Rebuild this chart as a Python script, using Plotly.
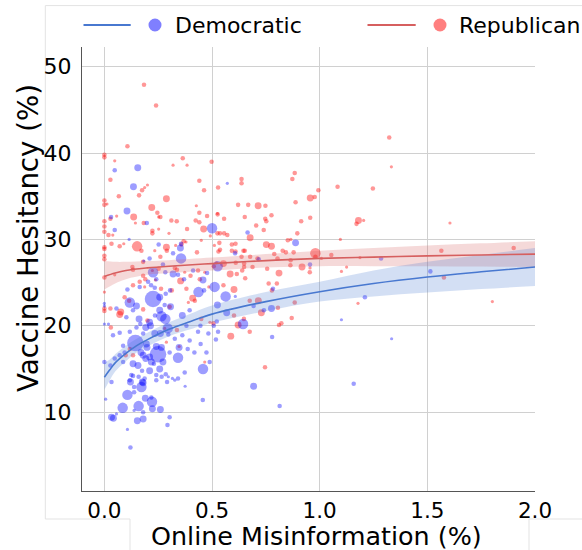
import numpy as np
import plotly.graph_objects as go

# ---------------- data ----------------
red_x = [0.184, 0.24, 0.107,
         0.0, 0.0, 0.048, 0.364, 0.384, 0.319, 0.028, 0.441, 0.2, 0.187, 0.175, 0.463, 0.161, 0.067, 0.288, 0.0, 0.012,
         0.0, 0.22, 0.427, 0.441, 0.246, 0.26, 0.252, 0.136, 0.057, 0.028, 0.477, 0.526, 0.0, 0.0, 0.0, 0.144, 0.183,
         0.311, 0.336, 0.424, 0.441, 0.223, 0.223, 0.252, 0.384, 0.461, 0.3, 0.019, 0.039, 0.368, 0.379, 0.45, 0.492,
         0.09, 0.071, 0.033, 0.152, 0.0, 0.0, 0.172, 0.234, 0.288, 0.29, 0.331, 0.358, 0.43, 0.511, 0.53,
         0.0, 0.0, 0.18, 0.26, 0.13, 0.133, 0.223, 0.252, 0.327, 0.337, 0.373, 0.435, 0.466, 0.508, 0.52, 0.0, 0.048,
         0.18, 0.19, 0.237, 0.354, 0.4, 0.443, 0.164, 0.133, 0.187, 0.263, 0.381, 0.485, 0.0, 0.094, 0.115, 0.41, 0.42,
         0.39, 0.303, 0.313, 0.18, 0.028, 0.076, 0.071, 0.0, 0.0, 0.2, 0.03, 0.28, 0.337, 0.49, 0.45, 0.118, 0.133,
         0.099, 0.347, 0.288, 0.466,
         0.637, 0.637, 0.873, 0.884, 0.621, 0.668, 0.714, 0.748, 0.652, 0.747, 0.752, 0.776, 0.705, 0.677, 0.74, 0.888,
         0.914, 0.956, 0.977, 0.994, 0.956, 0.896, 0.866, 0.852, 0.752, 0.776, 0.828, 0.843, 0.789, 0.879, 0.98, 0.98,
         0.637, 0.652, 0.609, 0.592, 0.571, 0.556, 0.537, 0.525, 0.534, 0.556, 0.525, 0.528, 0.498, 0.677,
         1.323, 1.333, 1.083, 1.247, 1.18, 1.171, 1.204, 1.605, 1.096, 1.054, 1.008, 1.187, 1.565, 1.901,
         0.609, 0.537, 0.592, 0.646, 0.553, 0.61, 0.649, 0.649, 0.64, 0.584, 0.615, 0.688, 0.711, 0.756, 0.654, 0.763,
         0.801, 0.602, 0.553, 0.778, 0.506,
         0.675, 0.715, 0.806, 0.884, 0.729, 0.602, 0.648, 0.87, 0.822, 0.811, 0.621, 0.675, 0.587, 0.746, 1.178,
         1.577, 1.802,
         0.804, 0.865, 0.864, 0.918, 0.811, 0.955, 0.954, 1.101, 1.125]
red_y = [47.9, 45.5, 40.8,
         39.8, 39.5, 39.1, 39.4, 38.6, 38.6, 36.9, 36.8, 36.3, 36.0, 35.7, 35.7, 35.1, 35.0, 34.7, 34.5, 34.1,
         34.0, 33.7, 33.9, 33.1, 33.1, 32.6, 32.6, 32.6, 32.7, 32.4, 32.7, 32.9, 32.1, 31.5, 30.9, 31.9, 31.9,
         32.2, 32.1, 32.2, 32.0, 31.0, 30.7, 31.2, 31.2, 31.2, 30.7, 30.5, 30.5, 29.8, 29.7, 29.9, 30.4,
         29.5, 29.2, 29.5, 29.2, 29.1, 28.9, 28.7, 28.7, 29.1, 28.7, 29.3, 29.4, 28.5, 29.3, 28.6,
         28.1, 27.7, 27.4, 28.0, 26.8, 26.5, 26.4, 26.6, 26.7, 26.5, 26.2, 26.4, 26.2, 26.9, 27.3, 25.6, 25.9,
         25.8, 25.4, 25.3, 25.2, 25.8, 25.4, 25.1, 24.7, 24.5, 24.3, 24.3, 24.5, 23.9, 23.3, 22.9, 23.2, 22.9,
         22.7, 22.2, 24.1, 21.9, 22.0, 21.6, 21.3, 22.0, 21.7, 20.6, 19.8, 19.7, 19.5, 20.4, 20.8, 17.3, 16.6,
         16.6, 17.6, 18.1, 15.8,
         37.0, 36.5, 37.0, 37.7, 34.0, 34.0, 33.9, 33.9, 32.6, 32.4, 32.1, 32.8, 31.6, 30.2, 31.1, 34.3,
         32.1, 34.8, 34.9, 35.7, 32.5, 30.7, 30.0, 29.9, 29.4, 29.2, 28.7, 28.5, 28.3, 28.5, 28.4, 28.0,
         28.0, 28.7, 28.6, 29.4, 30.5, 30.7, 30.7, 30.7, 29.6, 32.4, 33.0, 36.0, 39.0, 28.0,
         41.8, 38.4, 36.1, 35.9, 32.2, 31.8, 32.2, 31.9, 30.0, 28.2, 27.8, 27.9, 28.7, 29.0,
         29.5, 28.8, 28.7, 28.7, 27.2, 27.3, 27.2, 26.8, 26.4, 26.0, 26.0, 26.8, 27.8, 26.6, 25.5, 24.9,
         24.9, 24.2, 24.7, 24.1, 20.3,
         22.9, 22.9, 22.1, 22.7, 21.5, 21.2, 20.8, 20.9, 20.3, 20.1, 20.1, 19.3, 18.8, 15.2, 22.6,
         25.6, 22.8,
         27.8, 27.6, 27.0, 26.8, 26.1, 26.7, 26.2, 26.3, 26.8]
red_pop = [2, 2, 2,
           2, 2, 1, 2, 1, 1, 2, 2, 1, 1, 2, 2, 2, 2, 3, 2, 1,
           2, 3, 1, 2, 2, 2, 1, 3, 1, 2, 2, 2, 2, 2, 2, 1, 2,
           2, 2, 2, 2, 2, 2, 1, 2, 3, 1, 2, 1, 2, 1, 1, 1,
           1, 2, 2, 4, 2, 2, 2, 1, 3, 2, 1, 2, 2, 1, 2,
           2, 2, 2, 2, 2, 2, 1, 2, 2, 2, 1, 2, 1, 2, 1, 2, 1,
           2, 2, 1, 3, 2, 2, 2, 2, 1, 2, 2, 1, 1, 2, 2, 3, 2,
           1, 2, 2, 2, 2, 3, 3, 2, 2, 2, 2, 1, 2, 1, 2, 2, 2,
           2, 1, 1, 1,
           2, 2, 2, 2, 2, 2, 3, 2, 2, 2, 2, 2, 2, 3, 2, 2,
           2, 3, 2, 2, 2, 2, 1, 2, 3, 3, 2, 2, 2, 2, 4, 2,
           2, 2, 2, 2, 2, 2, 2, 2, 2, 2, 1, 2, 2, 2,
           2, 1, 2, 2, 3, 2, 1, 1, 1, 2, 1, 1, 2, 2,
           2, 2, 2, 2, 3, 2, 2, 2, 2, 3, 2, 2, 2, 2, 2, 2,
           2, 3, 2, 2, 2,
           2, 3, 2, 2, 3, 2, 2, 2, 2, 2, 3, 2, 3, 2, 1,
           2, 1,
           2, 2, 2, 3, 3, 1, 2, 1, 1]

blue_x = [0.155, 0.048, 0.135, 0.105, 0.031, 0.197, 0.048, 0.5, 0.115, 0.252, 0.356, 0.353, 0.319, 0.21, 0.356, 0.183,
          0.272, 0.226, 0.283, 0.319, 0.412, 0.477, 0.458, 0.342, 0.37, 0.241, 0.203, 0.217, 0.164, 0.107, 0.234, 0.285,
          0.305, 0.437, 0.512, 0.463, 0.226, 0.257, 0.118, 0.149, 0.28, 0.307, 0.257, 0.265, 0.283, 0.235, 0.362, 0.396,
          0.056, 0.133, 0.102, 0.161, 0.167, 0.21, 0.214, 0.192, 0.294, 0.26, 0.297, 0.18, 0.234, 0.149, 0.118, 0.071,
          0.04, 0.019, 0.0, 0.381, 0.446, 0.508, 0.435, 0.483, 0.528, 0.362, 0.327, 0.396, 0.447, 0.474, 0.144, 0.195,
          0.198, 0.087, 0.241, 0.265, 0.249, 0.347, 0.342, 0.303, 0.387, 0.418, 0.17, 0.18, 0.192, 0.21, 0.218, 0.094,
          0.071, 0.087, 0.048, 0.0, 0.028, 0.133, 0.156, 0.23, 0.272, 0.257, 0.21, 0.175, 0.125, 0.241, 0.285, 0.373,
          0.458, 0.489, 0.118, 0.133, 0.176, 0.033, 0.291, 0.342, 0.0, 0.0,
          0.121, 0.159, 0.187, 0.18, 0.172, 0.138, 0.241, 0.266, 0.297, 0.316, 0.327, 0.375, 0.006, 0.107, 0.138, 0.19,
          0.218, 0.221, 0.085, 0.159, 0.138, 0.223, 0.26, 0.18, 0.056, 0.033, 0.042, 0.153, 0.18, 0.303, 0.293, 0.107,
          0.121, 0.457,
          0.571, 0.665, 0.888, 0.717, 0.607, 0.526, 0.783,
          0.563, 0.608, 0.525, 0.693, 0.741, 0.776, 0.568, 0.522, 0.644, 0.518, 0.779, 0.693, 0.814, 1.101, 1.158, 1.21,
          0.955, 1.285, 1.514, 1.334]
blue_y = [38.3, 38.0, 36.1, 33.3, 32.6, 31.9, 31.1, 31.3, 30.0, 29.4, 29.5, 29.0, 28.4, 27.8, 27.8, 27.5,
          27.1, 26.2, 26.2, 26.0, 26.4, 26.1, 25.3, 25.9, 25.4, 25.4, 25.1, 24.7, 24.5, 24.2, 24.4, 23.7,
          24.1, 23.9, 24.5, 24.1, 23.1, 23.3, 22.7, 22.3, 22.4, 22.2, 21.8, 21.1, 20.8, 21.2, 21.2, 21.8,
          22.0, 21.8, 21.0, 20.8, 20.2, 20.4, 20.0, 19.8, 19.7, 19.1, 19.0, 19.1, 19.1, 19.8, 19.3, 19.2,
          18.9, 20.2, 20.2, 20.0, 20.0, 20.0, 19.3, 19.1, 19.3, 18.9, 18.5, 18.3, 17.9, 16.9, 18.0, 17.9,
          17.5, 17.7, 17.6, 17.5, 16.7, 17.5, 16.3, 16.9, 17.3, 16.9, 16.9, 16.6, 16.2, 16.4, 15.8, 16.9,
          16.6, 15.8, 16.2, 15.8, 15.4, 15.6, 15.4, 15.6, 15.8, 15.0, 14.8, 14.8, 14.3, 14.3, 14.4, 14.6,
          15.0, 15.8, 13.7, 14.2, 13.5, 13.5, 13.5, 13.9, 22.6, 22.3,
          13.5, 14.1, 13.9, 13.4, 12.9, 12.9, 13.7, 14.1, 14.1, 13.9, 13.7, 13.0, 11.5, 12.0, 12.3, 11.6,
          11.7, 11.2, 10.5, 10.7, 10.2, 10.4, 10.3, 10.0, 9.8, 9.4, 9.3, 9.0, 9.2, 9.4, 8.5, 8.0,
          5.9, 11.4,
          36.5, 30.8, 29.6, 27.7, 28.4, 26.9, 24.3,
          23.4, 23.4, 22.4, 22.3, 21.8, 22.0, 21.5, 20.5, 20.2, 18.4, 18.7, 13.0, 10.7, 20.7, 13.3, 23.3,
          27.1, 27.8, 26.3, 18.5]
blue_pop = [3, 2, 3, 3, 2, 2, 2, 4, 1, 2, 2, 3, 2, 2, 4, 1,
            2, 4, 2, 3, 2, 2, 3, 2, 2, 2, 2, 2, 2, 2, 2, 2,
            2, 4, 4, 2, 5, 3, 4, 3, 2, 3, 3, 4, 4, 2, 3, 2,
            2, 2, 2, 3, 2, 3, 3, 3, 4, 3, 2, 2, 3, 2, 2, 2,
            2, 1, 1, 2, 2, 2, 2, 2, 2, 2, 2, 2, 2, 2, 5, 3,
            3, 2, 3, 3, 5, 3, 4, 2, 2, 2, 3, 3, 3, 3, 3, 2,
            2, 2, 2, 2, 2, 3, 3, 2, 3, 3, 3, 2, 2, 2, 2, 2,
            4, 2, 2, 2, 3, 2, 2, 2, 1, 1,
            3, 2, 2, 3, 4, 2, 2, 2, 1, 1, 1, 1, 1, 4, 2, 3,
            2, 4, 4, 4, 1, 3, 3, 2, 1, 3, 3, 3, 3, 2, 2, 1,
            2, 2,
            1, 2, 3, 2, 2, 4, 2,
            4, 1, 3, 2, 2, 3, 3, 2, 4, 2, 2, 3, 2, 1, 2, 2,
            2, 2, 2, 1]

# fitted curves and confidence bands
blue_fit_x = [0.0, 0.025, 0.05, 0.1, 0.15, 0.2, 0.3, 0.4, 0.5, 0.75, 1.0, 1.25, 1.5, 1.75, 2.0]
blue_fit_y = [14.05, 14.9, 15.7, 16.8, 17.7, 18.4, 19.6, 20.5, 21.35, 22.8, 23.95, 24.9, 25.65, 26.25, 26.8]
blue_lo = [12.6, 13.7, 14.7, 15.9, 16.9, 17.6, 18.8, 19.6, 20.35, 21.7, 22.8, 23.4, 23.85, 24.25, 24.6]
blue_hi = [15.7, 16.1, 16.7, 17.7, 18.5, 19.2, 20.4, 21.4, 22.35, 23.9, 25.1, 26.4, 27.4, 28.2, 29.0]

red_fit_x = [0.0, 0.05, 0.1, 0.2, 0.3, 0.5, 0.75, 1.0, 1.25, 1.5, 1.75, 2.0]
red_fit_y = [25.7, 26.1, 26.4, 26.7, 26.9, 27.2, 27.55, 27.8, 27.95, 28.1, 28.2, 28.3]
red_lo = [24.2, 24.9, 25.4, 25.9, 26.1, 26.4, 26.75, 26.9, 26.9, 26.9, 26.85, 26.8]
red_hi = [27.5, 27.4, 27.4, 27.5, 27.6, 27.9, 28.3, 28.7, 29.0, 29.3, 29.55, 29.8]

x_ticks = [0.0, 0.5, 1.0, 1.5, 2.0]
y_ticks = [10, 20, 30, 40, 50]
party_names = ["Democratic", "Republican"]

# ---------------- styling ----------------
FONT = "DejaVu Sans"
BLUE_LINE = "#4878d0"
RED_LINE = "#d65f5f"
BLUE_PT = "rgba(0,0,255,0.55)"
RED_PT = "rgba(255,0,0,0.58)"
POP_SCALE = {1: 3, 2: 6, 3: 14, 4: 32, 5: 80}


def diam(pops):
    return [1.85 * np.sqrt(POP_SCALE[p]) for p in pops]


fig = go.Figure()

# scatter points
fig.add_trace(go.Scatter(x=red_x, y=red_y, mode="markers", showlegend=False,
                         marker=dict(size=diam(red_pop), color=RED_PT, line=dict(width=0))))
fig.add_trace(go.Scatter(x=blue_x, y=blue_y, mode="markers", showlegend=False,
                         marker=dict(size=diam(blue_pop), color=BLUE_PT, line=dict(width=0))))


def band(xs, lo, hi, col):
    fig.add_trace(go.Scatter(x=xs, y=lo, mode="lines", line=dict(width=0, shape="spline"),
                             showlegend=False, hoverinfo="skip"))
    fig.add_trace(go.Scatter(x=xs, y=hi, mode="lines", line=dict(width=0, shape="spline"),
                             fill="tonexty", fillcolor=col, showlegend=False, hoverinfo="skip"))


band(red_fit_x, red_lo, red_hi, "rgba(214,95,95,0.24)")
band(blue_fit_x, blue_lo, blue_hi, "rgba(72,120,208,0.24)")

fig.add_trace(go.Scatter(x=red_fit_x, y=red_fit_y, mode="lines", showlegend=False,
                         line=dict(color=RED_LINE, width=1.6, shape="spline")))
fig.add_trace(go.Scatter(x=blue_fit_x, y=blue_fit_y, mode="lines", showlegend=False,
                         line=dict(color=BLUE_LINE, width=1.6, shape="spline")))

# geometry of the plot area (pixels)
W, H = 582, 550
L, R, T, B = 82, 47, 47, 59
pw, ph = W - L - R, H - T - B


def px(xp):
    return (xp - L) / pw


def py(yp):
    return (H - B - yp) / ph


shapes = []
annotations = []

# manual legend
leg_y = py(25)
for name, lx0, lx1, cx, tx, lcol, pcol in [
        (party_names[0], 83.5, 130.7, 155, 173, BLUE_LINE, "rgba(0,0,255,0.5)"),
        (party_names[1], 367.5, 415.7, 440, 457, RED_LINE, "rgba(255,0,0,0.5)")]:
    shapes.append(dict(type="line", xref="paper", yref="paper", x0=px(lx0), x1=px(lx1),
                       y0=leg_y, y1=leg_y, line=dict(color=lcol, width=2.2)))
    shapes.append(dict(type="circle", xref="paper", yref="paper", xsizemode="pixel", ysizemode="pixel",
                       xanchor=px(cx), yanchor=leg_y, x0=-6.5, x1=6.5, y0=-6.5, y1=6.5,
                       fillcolor=pcol, line=dict(width=0)))
    annotations.append(dict(text=name, xref="paper", yref="paper", x=px(tx), y=leg_y,
                            xanchor="left", yanchor="middle", showarrow=False,
                            font=dict(family=FONT, size=22, color="black")))

# faint figure frame lines
frame = "#e3e3e3"
segs = [(45.3, 5.6, 590, 5.6), (45.3, 5.6, 45.3, 519), (45.3, 519, 130, 519), (130, 519, 130, 560),
        (529, 519, 529, 560), (529, 519, 590, 519)]
for x0, y0, x1, y1 in segs:
    shapes.append(dict(type="line", xref="paper", yref="paper", x0=px(x0), x1=px(x1),
                       y0=py(y0), y1=py(y1), line=dict(color=frame, width=1), layer="below"))

# axis titles
annotations.append(dict(text="Online Misinformation (%)", xref="paper", yref="paper",
                        x=px(316.5), y=py(536), xanchor="center", yanchor="middle", showarrow=False,
                        borderpad=0,
                        font=dict(family=FONT, size=25.4, color="black")))
annotations.append(dict(text="Vaccine Hesitancy (%)", xref="paper", yref="paper",
                        x=px(28), y=py(238), xanchor="center", yanchor="middle", showarrow=False,
                        textangle=-90, font=dict(family=FONT, size=27.6, color="black")))

fig.update_layout(
    width=W, height=H,
    margin=dict(l=L, r=R, t=T, b=B, pad=0),
    paper_bgcolor="white", plot_bgcolor="white",
    font=dict(family=FONT, size=22, color="black"),
    showlegend=False,
    shapes=shapes, annotations=annotations,
    xaxis=dict(range=[-0.104, 2.0], tickvals=x_ticks, ticktext=[f"{v:.1f}" for v in x_ticks],
               showgrid=True, gridcolor="#d0d0d0", gridwidth=1.3, zeroline=False,
               showline=True, linecolor="#555555", linewidth=1.2, ticks="", ticklabelstandoff=0,
               tickfont=dict(family=FONT, size=21.5, color="black")),
    yaxis=dict(range=[0.87, 52.28], tickvals=y_ticks, ticktext=[str(v) for v in y_ticks],
               showgrid=True, gridcolor="#d0d0d0", gridwidth=1.3, zeroline=False,
               showline=True, linecolor="#555555", linewidth=1.2, ticks="", ticklabelstandoff=5,
               tickfont=dict(family=FONT, size=22, color="black")),
)

fig.write_html("out.html", config={"displayModeBar": False},
               post_script="document.body.style.margin='0px';document.body.style.padding='0px';")
